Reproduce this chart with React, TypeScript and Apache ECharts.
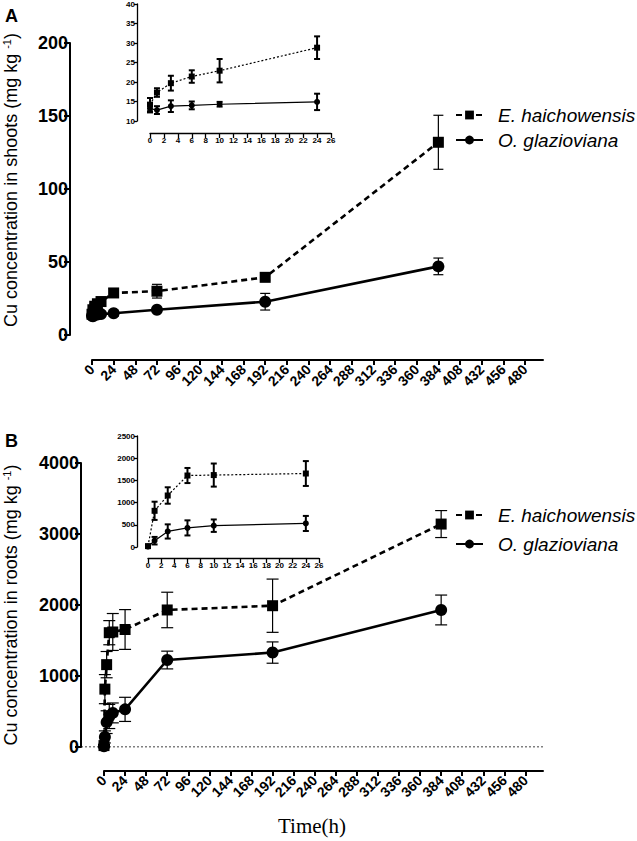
import React, { useEffect, useRef } from 'react';
import * as echarts from 'echarts';

// ---- data ----
const TIME_MAIN = [0, 1, 3, 6, 10, 24, 72, 192, 384];
const INSET_COUNT = 6; // inset shows the first 6 time points (0–24 h)

const SHOOT_EH = [14.2, 17.3, 19.7, 21.4, 22.9, 28.8, 30.0, 39.5, 132.0];
const SHOOT_EH_SD = [1.7, 1.1, 1.9, 1.6, 3.0, 2.9, 4.7, 2.0, 18.5];
const SHOOT_OG = [13.2, 12.8, 13.8, 14.0, 14.3, 14.9, 17.3, 22.8, 47.0];
const SHOOT_OG_SD = [1.0, 1.0, 1.5, 1.0, 0.6, 2.1, 1.5, 5.7, 5.7];

const ROOT_EH = [20, 815, 1160, 1610, 1620, 1655, 1930, 1990, 3140];
const ROOT_EH_SD = [15, 205, 185, 170, 260, 280, 250, 375, 190];
const ROOT_OG = [10, 142, 350, 430, 480, 530, 1225, 1330, 1930];
const ROOT_OG_SD = [10, 85, 160, 170, 140, 170, 125, 150, 210];

const X_TICKS_MAIN = [0, 24, 48, 72, 96, 120, 144, 168, 192, 216, 240, 264, 288, 312, 336, 360, 384, 408, 432, 456, 480];
const ZERO_LINE = [[0, 0], [1, 0]];

const SERIES_NAMES = ['E. haichowensis', 'O. glazioviana'];

const SANS = 'Liberation Sans, Arial, Helvetica, sans-serif';
const SERIF = 'Liberation Serif, Times New Roman, serif';

const plain = (v: number) => String(v);
const zip = (t: number[], v: number[]) => t.map((x, i) => [x, v[i]]);
const errData = (t: number[], m: number[], s: number[]) => t.map((x, i) => [x, m[i] - s[i], m[i] + s[i]]);

function errSeries(name: string, axis: number, data: number[][], cap: number, lw: number) {
  return {
    type: 'custom',
    name,
    xAxisIndex: axis,
    yAxisIndex: axis,
    data,
    z: 3,
    clip: false,
    encode: { x: 0, y: [1, 2] },
    renderItem: (_params: any, api: any) => {
      const x = api.value(0);
      const a = api.coord([x, api.value(1)]);
      const b = api.coord([x, api.value(2)]);
      const st = { stroke: '#000', lineWidth: lw };
      return {
        type: 'group',
        children: [
          { type: 'line', shape: { x1: a[0], y1: a[1], x2: b[0], y2: b[1] }, style: st },
          { type: 'line', shape: { x1: a[0] - cap, y1: a[1], x2: a[0] + cap, y2: a[1] }, style: st },
          { type: 'line', shape: { x1: b[0] - cap, y1: b[1], x2: b[0] + cap, y2: b[1] }, style: st },
        ],
      };
    },
  };
}

function lineSeries(name: string, axis: number, data: number[][], big: boolean, dashed: boolean) {
  return {
    type: 'line',
    name,
    xAxisIndex: axis,
    yAxisIndex: axis,
    data,
    symbol: dashed ? 'rect' : 'circle',
    symbolSize: big ? (dashed ? 11 : 12) : 6,
    clip: false,
    z: 4,
    itemStyle: { color: '#000' },
    lineStyle: {
      color: '#000',
      width: big ? 2.6 : 1.2,
      type: dashed ? (big ? [6, 4] : [2, 2]) : 'solid',
    },
    emphasis: { disabled: true },
  };
}

function mainX(grid: number, offset: number) {
  return {
    type: 'value',
    gridIndex: grid,
    min: 0,
    max: 500,
    offset,
    axisLine: { show: true, onZero: false, lineStyle: { color: '#000', width: 2 } },
    axisTick: { show: true, length: 5, lineStyle: { color: '#000', width: 2 }, customValues: X_TICKS_MAIN },
    axisLabel: {
      customValues: X_TICKS_MAIN,
      formatter: plain,
      rotate: 45,
      margin: 7,
      color: '#000',
      fontSize: 14,
      fontWeight: 'bold',
      fontFamily: SANS,
    },
    splitLine: { show: false },
  };
}

function mainY(grid: number, max: number, interval: number, offset: number) {
  return {
    type: 'value',
    gridIndex: grid,
    min: 0,
    max,
    interval,
    offset,
    axisLine: { show: true, onZero: false, lineStyle: { color: '#000', width: 2 } },
    axisTick: { show: true, length: 6, lineStyle: { color: '#000', width: 2 } },
    axisLabel: { formatter: plain, margin: 2, color: '#000', fontSize: 18, fontWeight: 'bold', fontFamily: SANS },
    splitLine: { show: false },
  };
}

function insetX(grid: number, offset: number) {
  return {
    type: 'value',
    gridIndex: grid,
    min: 0,
    max: 26,
    interval: 2,
    offset,
    axisLine: { show: true, onZero: false, lineStyle: { color: '#000', width: 1.3 } },
    axisTick: { show: true, length: 5, lineStyle: { color: '#000', width: 1.3 } },
    axisLabel: { formatter: plain, margin: 3, color: '#000', fontSize: 8, fontWeight: 'bold', fontFamily: SANS },
    splitLine: { show: false },
  };
}

function insetY(grid: number, min: number, max: number, interval: number, offset: number) {
  return {
    type: 'value',
    gridIndex: grid,
    min,
    max,
    interval,
    offset,
    axisLine: { show: true, onZero: false, lineStyle: { color: '#000', width: 1.3 } },
    axisTick: { show: true, length: 3, lineStyle: { color: '#000', width: 1.3 } },
    axisLabel: { formatter: plain, margin: 2, color: '#000', fontSize: 8, fontWeight: 'bold', fontFamily: SANS },
    splitLine: { show: false },
  };
}

function legend(top: number, gap: number) {
  return {
    show: true,
    orient: 'vertical',
    left: 450,
    top,
    itemWidth: 27,
    itemHeight: 11,
    itemGap: gap,
    data: SERIES_NAMES,
    selectedMode: false,
    textStyle: {
      color: '#000',
      fontSize: 19,
      fontStyle: 'italic',
      fontFamily: SANS,
      lineHeight: 20,
      padding: [0, 0, 0, 10],
    },
  };
}

function yTitle(x: number, y: number, what: string) {
  return {
    type: 'text',
    x,
    y,
    rotation: Math.PI / 2,
    style: {
      text: `Cu concentration in ${what} (mg kg {sup|-1})`,
      fill: '#000',
      fontSize: 18,
      fontFamily: SANS,
      align: 'center',
      verticalAlign: 'middle',
      rich: {
        sup: { fontSize: 11, fontFamily: SANS, fill: '#000', verticalAlign: 'top', padding: [0, 0, 8, 0] },
      },
    },
  };
}

export default function App() {
  const ref = useRef<HTMLDivElement>(null);

  useEffect(() => {
    if (!ref.current) return;
    const chart = echarts.init(ref.current, null, { renderer: 'svg' });

    const tIn = TIME_MAIN.slice(0, INSET_COUNT);
    const cut = (a: number[]) => a.slice(0, INSET_COUNT);

    const option: any = {
      animation: false,
      backgroundColor: '#fff',
      grid: [
        { left: 92, top: 43, width: 451, height: 292 }, // A main
        { left: 150, top: 4, width: 181, height: 117 }, // A inset
        { left: 104, top: 463, width: 439, height: 284 }, // B main
        { left: 148, top: 436, width: 171, height: 111 }, // B inset
        { left: 81, top: 463, width: 462, height: 284 }, // B zero line
      ],
      xAxis: [
        mainX(0, 25),
        insetX(1, 12),
        mainX(2, 24),
        insetX(3, 11),
        { type: 'value', gridIndex: 4, min: 0, max: 1, show: false },
      ],
      yAxis: [
        mainY(0, 200, 50, 22),
        insetY(1, 10, 40, 5, 13),
        mainY(2, 4000, 1000, 23),
        insetY(3, 0, 2500, 500, 11),
        { type: 'value', gridIndex: 4, min: 0, max: 4000, show: false },
      ],
      legend: [legend(100, 5), legend(500, 9)],
      series: [
        lineSeries(SERIES_NAMES[0], 0, zip(TIME_MAIN, SHOOT_EH), true, true),
        lineSeries(SERIES_NAMES[1], 0, zip(TIME_MAIN, SHOOT_OG), true, false),
        errSeries(SERIES_NAMES[0], 0, errData(TIME_MAIN, SHOOT_EH, SHOOT_EH_SD), 5, 1.2),
        errSeries(SERIES_NAMES[1], 0, errData(TIME_MAIN, SHOOT_OG, SHOOT_OG_SD), 5, 1.2),

        lineSeries(SERIES_NAMES[0], 1, zip(tIn, cut(SHOOT_EH)), false, true),
        lineSeries(SERIES_NAMES[1], 1, zip(tIn, cut(SHOOT_OG)), false, false),
        errSeries(SERIES_NAMES[0], 1, errData(tIn, cut(SHOOT_EH), cut(SHOOT_EH_SD)), 3, 2),
        errSeries(SERIES_NAMES[1], 1, errData(tIn, cut(SHOOT_OG), cut(SHOOT_OG_SD)), 3, 2),

        {
          type: 'line',
          name: 'zero',
          xAxisIndex: 4,
          yAxisIndex: 4,
          data: ZERO_LINE,
          symbol: 'none',
          z: 1,
          lineStyle: { color: '#000', width: 1, type: [2, 2] },
        },

        lineSeries(SERIES_NAMES[0], 2, zip(TIME_MAIN, ROOT_EH), true, true),
        lineSeries(SERIES_NAMES[1], 2, zip(TIME_MAIN, ROOT_OG), true, false),
        errSeries(SERIES_NAMES[0], 2, errData(TIME_MAIN, ROOT_EH, ROOT_EH_SD), 6, 1.2),
        errSeries(SERIES_NAMES[1], 2, errData(TIME_MAIN, ROOT_OG, ROOT_OG_SD), 6, 1.2),

        lineSeries(SERIES_NAMES[0], 3, zip(tIn, cut(ROOT_EH)), false, true),
        lineSeries(SERIES_NAMES[1], 3, zip(tIn, cut(ROOT_OG)), false, false),
        errSeries(SERIES_NAMES[0], 3, errData(tIn, cut(ROOT_EH), cut(ROOT_EH_SD)), 3, 2),
        errSeries(SERIES_NAMES[1], 3, errData(tIn, cut(ROOT_OG), cut(ROOT_OG_SD)), 3, 2),
      ],
      graphic: [
        { type: 'text', x: 5, y: 7, style: { text: 'A', fill: '#000', fontSize: 18, fontWeight: 'bold', fontFamily: SANS } },
        { type: 'text', x: 5, y: 432, style: { text: 'B', fill: '#000', fontSize: 18, fontWeight: 'bold', fontFamily: SANS } },
        yTitle(11, 180, 'shoots'),
        yTitle(11, 605, 'roots'),
        {
          type: 'text',
          x: 312,
          y: 826,
          style: { text: 'Time(h)', fill: '#000', fontSize: 21, fontFamily: SERIF, align: 'center', verticalAlign: 'middle' },
        },
      ],
    };

    chart.setOption(option);
    return () => chart.dispose();
  }, []);

  return (
    <div
      ref={ref}
      style={{ position: 'fixed', left: 0, top: 0, width: 637, height: 841, background: '#fff' }}
    />
  );
}
